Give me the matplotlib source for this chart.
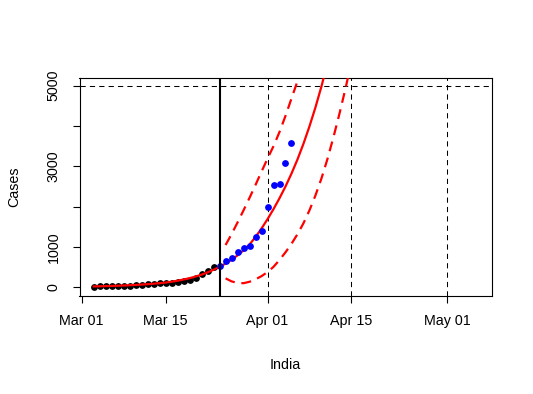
import matplotlib
matplotlib.use("Agg")
import matplotlib.pyplot as plt
import pandas as pd

plt.rcParams['font.family'] = ['Liberation Sans', 'DejaVu Sans']

# observed cases before the cut date (black) and after it (blue)
obs_dates = pd.date_range("2020-03-03", periods=21)
obs_cases = [5, 28, 30, 31, 34, 39, 43, 56, 62, 73, 82, 102, 113, 119, 142,
             156, 194, 244, 330, 396, 499]
new_dates = pd.date_range("2020-03-24", periods=13)
new_cases = [536, 657, 727, 887, 987, 1024, 1251, 1397, 1998, 2543, 2567,
             3082, 3588]

# fitted curve and its bands
fit_dates = pd.date_range("2020-03-03", periods=40)
fit_vals = [25, 29, 33, 37, 42, 48, 55, 62, 71, 81, 92, 105, 121, 142, 167,
            196, 230, 270, 317, 373, 438, 510, 592, 685, 795, 920, 1065,
            1250, 1460, 1690, 1940, 2210, 2500, 2820, 3170, 3560, 3990,
            4460, 4980, 5550]
up_dates = pd.date_range("2020-03-25", periods=14)
up_vals = [1050, 1320, 1610, 1910, 2220, 2540, 2870, 3190, 3500, 3850, 4250,
           4680, 5110, 5550]
lo_dates = pd.date_range("2020-03-25", periods=22)
lo_vals = [225, 150, 110, 105, 140, 200, 280, 380, 510, 680, 870, 1080, 1320,
           1590, 1910, 2280, 2700, 3180, 3720, 4300, 4920, 5580]

cut_date = pd.Timestamp("2020-03-24")
ref_dates = pd.to_datetime(["2020-04-01", "2020-04-15", "2020-05-01"])
ref_level = 5000

xtick_dates = pd.to_datetime(["2020-03-01", "2020-03-15", "2020-04-01",
                              "2020-04-15", "2020-05-01"])
xtick_labels = ["Mar 01", "Mar 15", "Apr 01", "Apr 15", "May 01"]
ytick_vals = [0, 1000, 2000, 3000, 4000, 5000]
ytick_labels = ["0", "1000", "", "3000", "", "5000"]

fig = plt.figure(figsize=(5.33, 3.94), dpi=100)
ax = fig.add_axes([79.5 / 533, 1 - 295.5 / 394, 412.5 / 533, 218 / 394])

ax.scatter(obs_dates, obs_cases, s=15, c="black", zorder=2)
ax.plot(fit_dates, fit_vals, color="red", lw=1.6, zorder=3)
ax.plot(up_dates, up_vals, color="red", lw=1.6, ls=(0, (4.5, 3)), zorder=3)
ax.plot(lo_dates, lo_vals, color="red", lw=1.6, ls=(0, (4.5, 3)), zorder=3)
ax.scatter(new_dates, new_cases, s=15, c="blue", zorder=4)

ax.axvline(cut_date, color="black", lw=1.5, zorder=5)
for d in ref_dates:
    ax.axvline(d, color="black", lw=0.75, ls=(0, (5, 4)), zorder=1)
ax.axhline(ref_level, color="black", lw=0.75, ls=(0, (5, 4)), zorder=1)

start = pd.Timestamp("2020-03-01")
ax.set_xlim(start - pd.Timedelta(hours=9), start + pd.Timedelta(hours=68.46 * 24))
ax.set_ylim(-200, 5200)

ax.set_xticks(xtick_dates)
ax.set_xticklabels(xtick_labels)
ax.set_yticks(ytick_vals)
ax.set_yticklabels(ytick_labels, rotation=90, va="center")
ax.tick_params(direction="out", length=5, width=0.8, labelsize=10.3, pad=8.5)
for sp in ax.spines.values():
    sp.set_linewidth(0.8)

fig.text(285.5 / 533, 1 - 365 / 394, "India", ha="center", va="center", fontsize=10.3)
fig.text(14 / 533, 1 - 187 / 394, "Cases", ha="center", va="center",
         rotation=90, fontsize=10.3)

fig.savefig("out.png", dpi=100)
